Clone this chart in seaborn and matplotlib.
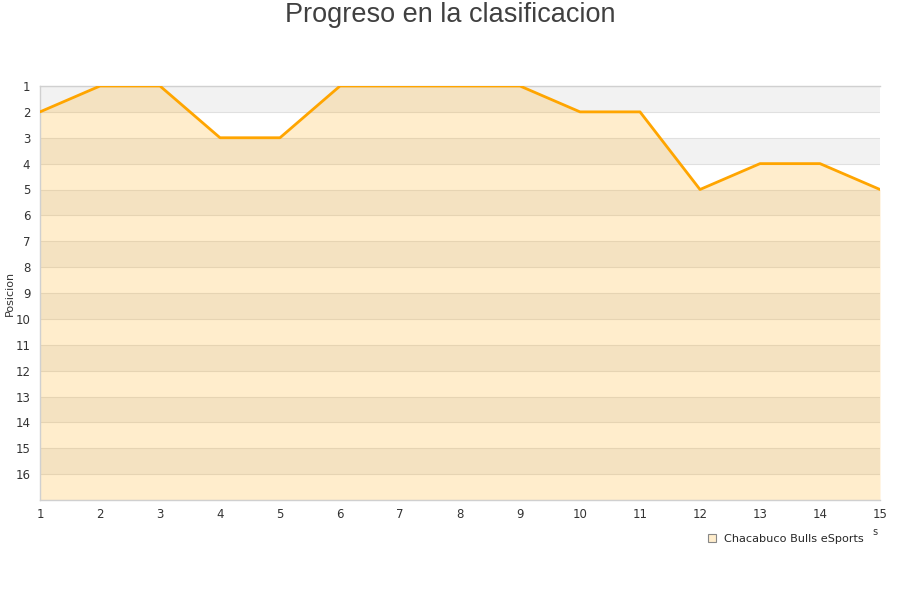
import matplotlib
matplotlib.use("Agg")
import matplotlib.pyplot as plt
import seaborn as sns
import pandas as pd
from matplotlib.lines import Line2D

jornadas = list(range(1, 16))
posiciones = [2, 1, 1, 3, 3, 1, 1, 1, 1, 2, 2, 5, 4, 4, 5]
equipo = "Chacabuco Bulls eSports"
titulo = "Progreso en la clasificacion"
ylabel = "Posicion"
y_ticks = list(range(1, 17))

df = pd.DataFrame({"Jornada": jornadas, "Posicion": posiciones})

sns.set_style("white")
plt.rcParams['font.family'] = ['DejaVu Sans']

fig = plt.figure(figsize=(9, 6), dpi=100)
ax = fig.add_axes([40/900, 1-500/600, 840/900, 414/600])

# alternating bands
for k in range(1, 17, 2):
    ax.axhspan(k, k+1, color="#f2f2f2", zorder=0, lw=0)
for k in range(1, 18):
    ax.axhline(k, color="#e0e0e0", lw=0.8, zorder=0.5)

ax.fill_between(df["Jornada"], df["Posicion"], 17, color="#FFA500", alpha=0.2, lw=0, zorder=1)
sns.lineplot(data=df, x="Jornada", y="Posicion", color="#FFA500", lw=2, ax=ax, zorder=3)

ax.set_xlim(1, 15)
ax.set_ylim(17, 1)
ax.set_xticks(jornadas)
ax.set_yticks(y_ticks)
ax.tick_params(axis="both", length=0, labelsize=8.5, colors="#333333")
ax.tick_params(axis="x", pad=6)
ax.tick_params(axis="y", pad=7)
ax.set_xlabel("")
ax.set_ylabel("")
ax.spines["right"].set_visible(False)
for s in ["left", "bottom", "top"]:
    ax.spines[s].set_color("#d0d0d0")
    ax.spines[s].set_linewidth(1)

fig.text(10/900, 1-293/600, ylabel, rotation=90, ha="center", va="center",
         fontsize=8, color="#333333")
fig.text(0.5, 1-15/600, titulo, ha="center", va="center", fontsize=19.5,
         color="#404040", family="Liberation Sans")

handle = Line2D([], [], marker="s", ls="", markersize=6, markerfacecolor="#FFEDCC",
                markeredgecolor="#888888", markeredgewidth=0.8)
fig.legend([handle], [equipo], loc="center", bbox_to_anchor=(785/900, 1-539/600),
           frameon=False, fontsize=8.1, handletextpad=0.6, handlelength=1.0)
fig.text(875/900, 1-532/600, "s", fontsize=7, color="#333333", ha="center", va="center")

fig.savefig("out.png", dpi=100)
